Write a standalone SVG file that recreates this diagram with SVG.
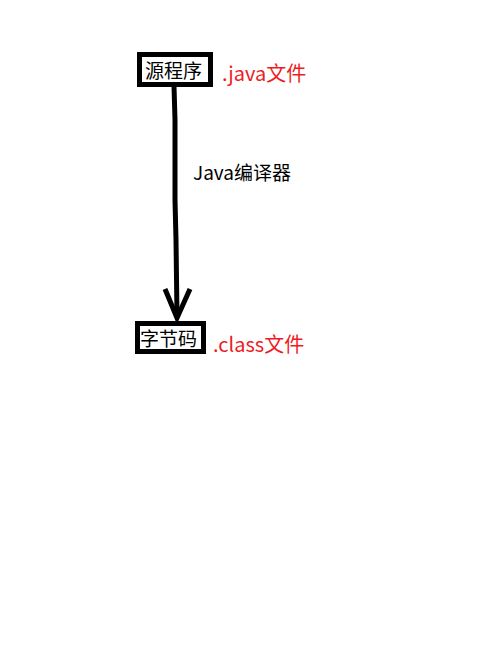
<svg xmlns="http://www.w3.org/2000/svg" width="500" height="660" viewBox="0 0 500 660">
<style>
.box{fill:#fff;stroke:#000;stroke-width:5}
.t{font-family:"Microsoft YaHei","Noto Sans CJK SC",sans-serif;font-size:19px;fill:#000}
.r{font-family:"Microsoft YaHei","Noto Sans CJK SC",sans-serif;font-size:20px;fill:#ed1c24}
.c{fill:none;stroke:#000;stroke-width:5;stroke-linecap:butt;stroke-linejoin:miter}
</style>
<rect width="500" height="660" fill="#fff"/>
<g id="connectors">
<polyline class="c" points="174,86 175,120 175,200 176,240 177,316"/>
<polyline class="c" points="165,289 177,318 190,289"/>
<text class="t" x="193" y="180" font-size="18.5">Java编译器</text>
</g>
<g id="source">
<rect class="box" x="139.5" y="54.5" width="71" height="30"/>
<text class="t" x="145" y="78">源程序</text>
<text class="r" x="222" y="81">.java文件</text>
</g>
<g id="bytecode">
<rect class="box" x="137.5" y="323.5" width="66" height="28"/>
<text class="t" x="140" y="346">字节码</text>
<text class="r" x="213" y="352">.class文件</text>
</g>
</svg>
